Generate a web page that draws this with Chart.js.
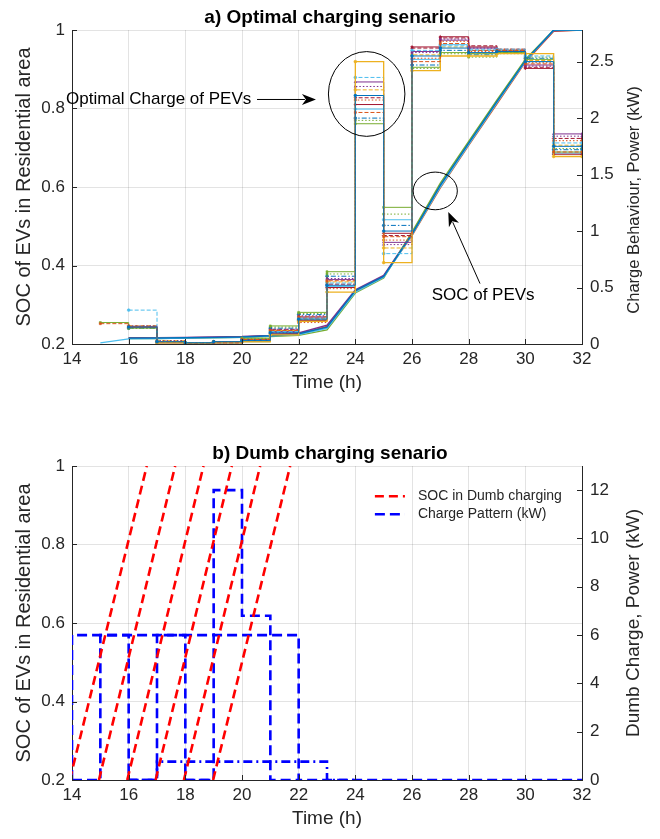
<!DOCTYPE html>
<html>
<head>
  <meta charset="UTF-8">
  <title>Optimal vs dumb charging of PEVs</title>
  <script src="https://cdn.jsdelivr.net/npm/chart.js"></script>
  <style>
    body { margin: 0; background: #fff; overflow: hidden; }
    .box { position: relative; width: 660px; }
  </style>
</head>
<body>
  <div class="box" style="height:436px"><canvas id="optimal"></canvas></div>
  <div class="box" style="height:403px"><canvas id="dumb"></canvas></div>

  <script>
    // ---- a) optimal charging: hourly power of each PEV (kW), value holds for that hour ----
    const optHours = [15,16,17,18,19,20,21,22,23,24,25,26,27,28,29,30,31,32];
    const optPower = [
      [null,0.15,0.02,0.01,0.02,0.03,0.10,0.22,0.52,2.20,1.00,2.55,2.62,2.58,2.59,2.50,1.75,1.75],
      [0.18,0.15,0.02,0.00,0.01,0.04,0.12,0.24,0.56,2.05,0.95,2.50,2.66,2.60,2.60,2.48,1.70,1.70],
      [null,null,0.01,0.00,0.01,0.02,0.08,0.20,0.46,2.50,0.72,2.42,2.55,2.55,2.57,2.57,1.66,1.66],
      [null,0.16,0.03,0.01,0.02,0.04,0.13,0.25,0.58,2.28,0.88,2.58,2.70,2.62,2.60,2.46,1.84,1.84],
      [0.19,0.14,0.02,0.01,0.02,0.05,0.16,0.28,0.64,1.95,1.21,2.45,2.58,2.57,2.58,2.52,1.70,1.70],
      [null,0.30,0.02,0.01,0.01,0.03,0.11,0.23,0.54,2.36,0.80,2.60,2.64,2.61,2.61,2.55,1.78,1.78],
      [null,0.15,0.01,0.00,0.02,0.03,0.09,0.21,0.50,2.12,0.98,2.63,2.72,2.63,2.59,2.44,1.68,1.68],
      [null,0.14,0.02,0.01,0.01,0.04,0.14,0.26,0.60,2.00,1.05,2.47,2.60,2.56,2.58,2.53,1.72,1.72],
      [null,0.15,0.02,0.00,0.02,0.03,0.10,0.19,0.49,2.16,0.92,2.53,2.68,2.59,2.61,2.49,1.80,1.80],
      [null,0.16,0.03,0.01,0.02,0.04,0.12,0.22,0.55,2.25,0.85,2.56,2.63,2.57,2.60,2.51,1.76,1.76],
      [null,0.15,0.02,0.01,0.01,0.03,0.11,0.24,0.57,2.32,0.90,2.59,2.69,2.62,2.59,2.47,1.86,1.86],
      [null,0.14,0.02,0.00,0.02,0.05,0.15,0.27,0.62,1.98,1.15,2.44,2.57,2.54,2.57,2.54,1.73,1.73],
      [null,0.15,0.01,0.01,0.01,0.02,0.09,0.21,0.51,2.08,1.10,2.52,2.65,2.60,2.60,2.50,1.69,1.69],
      [null,0.16,0.02,0.01,0.02,0.04,0.13,0.23,0.53,2.18,0.96,2.62,2.71,2.64,2.61,2.45,1.82,1.82]
    ];
    // SOC of the same PEVs under optimal charging
    const optSoc = [
      [null,0.215,0.215,0.216,0.217,0.218,0.221,0.226,0.243,0.336,0.372,0.480,0.605,0.712,0.818,0.922,1.000,1.000],
      [0.203,0.213,0.214,0.215,0.216,0.217,0.220,0.224,0.240,0.332,0.370,0.478,0.600,0.708,0.815,0.920,1.000,1.000],
      [null,0.214,0.214,0.215,0.216,0.217,0.219,0.222,0.236,0.330,0.368,0.485,0.610,0.716,0.822,0.925,1.000,1.000],
      [null,0.216,0.216,0.217,0.218,0.219,0.222,0.228,0.248,0.338,0.375,0.482,0.603,0.710,0.816,0.921,0.998,1.000],
      [null,0.215,0.215,0.216,0.217,0.218,0.221,0.225,0.245,0.334,0.373,0.476,0.598,0.706,0.812,0.918,0.997,1.000]
    ];

    // ---- b) dumb charging ----
    const dumbHours = [14,15,16,17,18,19,20,21,22,23,24,25,26,27,28,29,30,31,32];
    const dumbPower = [
      [6,6,6,6,6,6,6,6,0,0,0,0,0,0,0,0,0,0,0],
      [0,6,0,0,null,null,null,null,null,null,null,null,null,null,null,null,null,null,null],
      [null,null,0,6,0,0,null,null,null,null,null,null,null,null,null,null,null,null,null],
      [null,null,null,null,0,12,6.8,0,0,null,null,null,null,null,null,null,null,null,null],
      [null,null,0,0.76,0.76,0.76,0.76,0.76,0.76,0,0,null,null,null,null,null,null,null,null]
    ];
    // each dumb-charged EV goes linearly from empty to full
    const dumbSocStart = [13.92, 14.95, 15.95, 16.95, 17.95, 18.98];
    const dumbSocFull  = [16.64, 17.64, 18.64, 19.64, 20.64, 21.70];
    const socEmpty = 0.2, socFull = 1.0;

    // ---- styling ----
    const FONT = "'Liberation Sans', Arial, Helvetica, sans-serif";
    const INK = '#262626';
    const GRID = 'rgba(38,38,38,0.13)';
    const matlab = ['#0072BD','#D95319','#EDB120','#7E2F8E','#77AC30','#4DBEEE','#A2142F'];
    const dashes = [[], [4,2], [1.5,2], [5,2,1.5,2]];
    const powerDash = [0,1,0,2,0,1,0,3,2,1,0,2,0,1];
    const marks = ['circle','rect','circle','triangle','rect','circle','rectRot'];
    const plainNum = v => String(+v.toFixed(2));

    // MATLAB-like extras: inward ticks, upward right label, call-outs, in-plot legend
    const extras = {
      id: 'extras',
      afterDraw(chart, args, o) {
        const ctx = chart.ctx, a = chart.chartArea;
        const xs = chart.scales.x, ys = chart.scales.y, yr = chart.scales.y1;
        ctx.save();
        ctx.strokeStyle = INK; ctx.lineWidth = 1; ctx.setLineDash([]);
        ctx.beginPath();
        xs.ticks.forEach(t => { const p = Math.round(xs.getPixelForValue(t.value)) + 0.5; ctx.moveTo(p, a.bottom); ctx.lineTo(p, a.bottom - 5); });
        ys.ticks.forEach(t => { const p = Math.round(ys.getPixelForValue(t.value)) + 0.5; ctx.moveTo(a.left, p); ctx.lineTo(a.left + 5, p); });
        yr.ticks.forEach(t => { const p = Math.round(yr.getPixelForValue(t.value)) + 0.5; ctx.moveTo(a.right, p); ctx.lineTo(a.right - 5, p); });
        ctx.stroke();

        ctx.save();
        ctx.font = o.rightTitleSize + 'px ' + FONT;
        ctx.fillStyle = INK; ctx.textAlign = 'center'; ctx.textBaseline = 'middle';
        ctx.translate(chart.width - 26, (a.top + a.bottom) / 2 + o.rightTitleShift);
        ctx.rotate(-Math.PI / 2);
        ctx.fillText(o.rightTitle, 0, 0);
        ctx.restore();

        ctx.strokeStyle = '#000'; ctx.fillStyle = '#000'; ctx.lineWidth = 1;
        (o.circles || []).forEach(c => {
          const cx = xs.getPixelForValue(c.x), cy = ys.getPixelForValue(c.y);
          const rx = xs.getPixelForValue(c.x + c.rx) - cx, ry = cy - ys.getPixelForValue(c.y + c.ry);
          ctx.beginPath(); ctx.ellipse(cx, cy, rx, ry, 0, 0, Math.PI * 2); ctx.stroke();
        });
        (o.arrows || []).forEach(r => {
          const x0 = xs.getPixelForValue(r.x0), y0 = ys.getPixelForValue(r.y0);
          const x1 = xs.getPixelForValue(r.x1), y1 = ys.getPixelForValue(r.y1);
          const ang = Math.atan2(y1 - y0, x1 - x0), L = 14, W = 5.5;
          const bx = x1 - L * Math.cos(ang), by = y1 - L * Math.sin(ang);
          ctx.beginPath(); ctx.moveTo(x0, y0); ctx.lineTo(bx + 3 * Math.cos(ang), by + 3 * Math.sin(ang)); ctx.stroke();
          ctx.beginPath();
          ctx.moveTo(x1, y1);
          ctx.lineTo(bx - W * Math.sin(ang), by + W * Math.cos(ang));
          ctx.lineTo(bx + 4 * Math.cos(ang), by + 4 * Math.sin(ang));
          ctx.lineTo(bx + W * Math.sin(ang), by - W * Math.cos(ang));
          ctx.closePath(); ctx.fill();
        });
        ctx.font = '17px ' + FONT; ctx.textBaseline = 'middle';
        (o.texts || []).forEach(t => {
          ctx.textAlign = t.align;
          ctx.fillText(t.text, xs.getPixelForValue(t.x), ys.getPixelForValue(t.y));
        });

        if (o.legend) {
          const L = o.legend;
          ctx.font = '14px ' + FONT; ctx.textAlign = 'left'; ctx.fillStyle = INK;
          L.items.forEach((it, i) => {
            const ds = chart.data.datasets[it];
            const py = ys.getPixelForValue(L.rows[i]);
            ctx.strokeStyle = ds.borderColor; ctx.lineWidth = ds.borderWidth; ctx.setLineDash(ds.borderDash || []);
            ctx.beginPath(); ctx.moveTo(xs.getPixelForValue(L.x0), py); ctx.lineTo(xs.getPixelForValue(L.x1), py); ctx.stroke();
            ctx.setLineDash([]);
            ctx.fillText(ds.label, xs.getPixelForValue(L.tx), py);
          });
        }
        ctx.restore();
      }
    };

    function scales(rightMax, rightStep) {
      return {
        x: {
          type: 'linear', min: 14, max: 32,
          ticks: { stepSize: 2, padding: 5, color: INK, font: { family: FONT, size: 17 }, maxRotation: 0, callback: plainNum },
          grid: { color: GRID, drawTicks: false },
          border: { color: INK },
          title: { display: true, text: 'Time (h)', color: INK, font: { family: FONT, size: 19 }, padding: { top: 0, bottom: 6 } },
          afterFit: s => { s.height = 56; }
        },
        y: {
          position: 'left', min: 0.2, max: 1,
          ticks: { stepSize: 0.2, padding: 7, color: INK, font: { family: FONT, size: 17 }, callback: plainNum },
          grid: { color: GRID, drawTicks: false },
          border: { color: INK },
          title: { display: true, text: 'SOC of EVs in Residential area', color: INK, font: { family: FONT, size: 20 }, padding: { top: 12, bottom: 0 } },
          afterFit: s => { s.width = 72; }
        },
        y1: {
          position: 'right', min: 0, max: rightMax,
          ticks: { stepSize: rightStep, padding: 8, color: INK, font: { family: FONT, size: 17 }, includeBounds: false, callback: plainNum },
          grid: { drawOnChartArea: false, drawTicks: false },
          border: { color: INK },
          afterFit: s => { s.width = 78; }
        }
      };
    }

    function titleOpts(text) {
      return { display: true, text: text, color: '#000', font: { family: FONT, size: 19, weight: 'bold' }, padding: { top: 6, bottom: 1.2 } };
    }

    // ---------- chart a ----------
    const optSets = [];
    optPower.forEach((vals, i) => {
      const col = matlab[i % 7];
      optSets.push({
        label: 'PEV ' + (i + 1) + ' power',
        data: optHours.map((h, k) => ({ x: h, y: vals[k] })),
        yAxisID: 'y1', stepped: true,
        borderColor: col, borderWidth: i === 2 ? 1.3 : 1, borderDash: dashes[powerDash[i]],
        pointStyle: marks[i % 7], pointRadius: 1.4, pointBackgroundColor: col, pointBorderColor: col, pointBorderWidth: 0.6
      });
    });
    const socColors = ['#0072BD', '#4DBEEE', '#77AC30', '#7E2F8E', '#D95319'];
    optSoc.forEach((vals, i) => {
      optSets.push({
        label: 'PEV ' + (i + 1) + ' SOC',
        data: optHours.map((h, k) => ({ x: h, y: vals[k] })),
        yAxisID: 'y', borderColor: socColors[i], borderWidth: 1.4, pointRadius: 0
      });
    });

    new Chart(document.getElementById('optimal'), {
      type: 'line',
      data: { datasets: optSets },
      options: {
        responsive: true, maintainAspectRatio: false, animation: false, events: [],
        layout: { padding: { bottom: 36 } },
        scales: scales(2.78, 0.5),
        plugins: {
          legend: { display: false },
          tooltip: { enabled: false },
          title: titleOpts('a) Optimal charging senario'),
          extras: {
            rightTitle: 'Charge Behaviour, Power (kW)', rightTitleSize: 16.5, rightTitleShift: 13,
            circles: [ { x: 24.4, y: 0.837, rx: 1.35, ry: 0.108 }, { x: 26.82, y: 0.59, rx: 0.78, ry: 0.048 } ],
            arrows: [ { x0: 20.53, y0: 0.823, x1: 22.61, y1: 0.823 }, { x0: 28.4, y0: 0.354, x1: 27.28, y1: 0.536 } ],
            texts: [ { text: 'Optimal Charge of PEVs', x: 13.79, y: 0.823, align: 'left' },
                     { text: 'SOC of PEVs', x: 28.51, y: 0.324, align: 'center' } ]
          }
        }
      },
      plugins: [extras]
    });

    // ---------- chart b ----------
    const dumbSets = [];
    dumbSocStart.forEach((s, i) => {
      dumbSets.push({
        label: i === 0 ? 'SOC in Dumb charging' : 'EV ' + (i + 1) + ' SOC',
        data: [ { x: s, y: socEmpty }, { x: dumbSocFull[i], y: socFull } ],
        yAxisID: 'y', borderColor: '#FF0000', borderWidth: 2.6, borderDash: [9, 5], pointRadius: 0
      });
    });
    dumbPower.forEach((vals, i) => {
      const pts = dumbHours.map((h, k) => ({ x: h, y: vals[k] }));
      if (vals[0] > 0) pts.unshift({ x: dumbHours[0], y: 0 });
      dumbSets.push({
        label: i === 0 ? 'Charge Pattern (kW)' : 'EV pattern ' + (i + 1),
        data: pts, yAxisID: 'y1', stepped: true,
        borderColor: '#0000FF', borderWidth: 2.6, borderDash: i === 4 ? [9, 4, 2, 4] : [10, 5], pointRadius: 0
      });
    });

    new Chart(document.getElementById('dumb'), {
      type: 'line',
      data: { datasets: dumbSets },
      options: {
        responsive: true, maintainAspectRatio: false, animation: false, events: [],
        layout: { padding: { bottom: 3 } },
        scales: scales(13, 2),
        plugins: {
          legend: { display: false },
          tooltip: { enabled: false },
          title: titleOpts('b) Dumb charging senario'),
          extras: {
            rightTitle: 'Dumb Charge, Power (kW)', rightTitleSize: 19, rightTitleShift: 0,
            legend: { items: [0, 6], rows: [0.923, 0.877], x0: 24.69, x1: 25.75, tx: 26.21 }
          }
        }
      },
      plugins: [extras]
    });
  </script>
</body>
</html>
